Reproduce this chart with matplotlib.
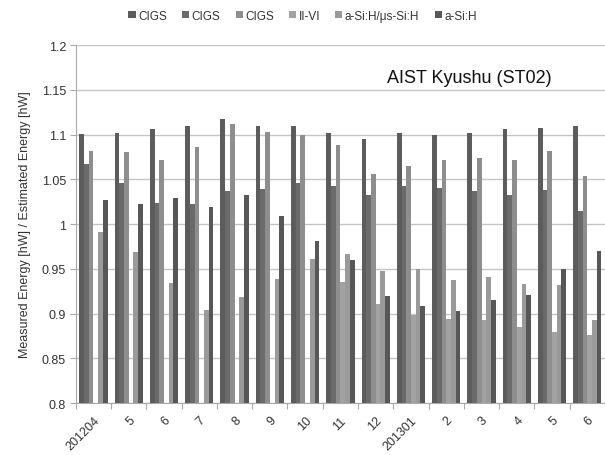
import numpy as np
import matplotlib.pyplot as plt

plt.rcParams['font.family'] = ['Liberation Sans', 'DejaVu Sans']

# monthly ratio of measured to estimated energy, AIST Kyushu site
months = ['201204', '5', '6', '7', '8', '9', '10', '11', '12',
          '201301', '2', '3', '4', '5', '6']
series_names = ['CIGS', 'CIGS', 'CIGS', 'II-VI', 'a-Si:H/μs-Si:H', 'a-Si:H']

cigs_1 = [1.101, 1.102, 1.106, 1.109, 1.117, 1.109, 1.109, 1.102, 1.095,
          1.102, 1.100, 1.102, 1.106, 1.107, 1.109]
cigs_2 = [1.067, 1.046, 1.023, 1.022, 1.037, 1.039, 1.046, 1.043, 1.032,
          1.043, 1.040, 1.037, 1.033, 1.038, 1.015]
cigs_3 = [1.082, 1.080, 1.072, 1.086, 1.112, 1.103, 1.099, 1.088, 1.056,
          1.065, 1.072, 1.074, 1.072, 1.082, 1.054]
ii_vi = [np.nan, np.nan, np.nan, np.nan, np.nan, np.nan, np.nan, 0.935, 0.911,
         0.898, 0.894, 0.893, 0.885, 0.879, 0.876]
asi_usi = [0.991, 0.969, 0.934, 0.904, 0.918, 0.939, 0.961, 0.967, 0.948,
           0.950, 0.938, 0.941, 0.933, 0.932, 0.893]
asi = [1.027, 1.022, 1.029, 1.019, 1.033, 1.009, 0.981, 0.960, 0.920,
       0.908, 0.903, 0.915, 0.921, 0.950, 0.970]

all_series = [cigs_1, cigs_2, cigs_3, ii_vi, asi_usi, asi]
colors = ['#5c5c5c', '#6a6a6a', '#8e8e8e', '#a2a2a2', '#9a9a9a', '#575757']

fig = plt.figure(figsize=(6.05, 4.56), dpi=100)
ax = fig.add_axes([0.1253, 0.114, 0.8747, 0.785])

n = len(all_series)
group_w = 0.8
bar_w = group_w / n
x = np.arange(len(months))
for i, (vals, c) in enumerate(zip(all_series, colors)):
    offs = -group_w / 2 + bar_w * (i + 0.5)
    ax.bar(x + offs, np.array(vals) - 0.8, bar_w, bottom=0.8, color=c,
           label=series_names[i], zorder=3, linewidth=0)

ax.set_xlim(-0.5, len(months) - 0.5)
ax.set_ylim(0.8, 1.2)
ax.set_yticks(np.arange(0.8, 1.201, 0.05))
ax.set_yticklabels(['0.8', '0.85', '0.9', '0.95', '1', '1.05', '1.1', '1.15', '1.2'],
                   fontsize=9, color='#333333')
ax.yaxis.grid(True, color='#c4c4c4', linewidth=1, zorder=0)
ax.tick_params(axis='y', length=4, color='#aaaaaa', pad=3)

# category boundaries get the tick marks, labels sit in the middle
ax.set_xticks(np.arange(-0.5, len(months), 1.0))
ax.set_xticklabels([])
ax.tick_params(axis='x', which='major', length=4, color='#aaaaaa')
ax.set_xticks(x, minor=True)
ax.set_xticklabels(months, minor=True, rotation=45, ha='right',
                   rotation_mode='anchor', fontsize=9, color='#333333')
ax.tick_params(axis='x', which='minor', length=0, pad=8)

for side in ['top', 'right']:
    ax.spines[side].set_visible(False)
for side in ['left', 'bottom']:
    ax.spines[side].set_color('#aaaaaa')

ax.set_ylabel('Measured Energy [hW] / Estimated Energy [hW]', fontsize=9,
              color='#333333', labelpad=8)

fig.text(0.911, 0.828, 'AIST Kyushu (ST02)', fontsize=13, ha='right',
         va='center', color='#111111')

fig.legend(loc='center', bbox_to_anchor=(0.5, 0.963), ncol=6, frameon=False,
           fontsize=8.5, handlelength=0.6, handleheight=0.6, handletextpad=0.2,
           columnspacing=1.3, labelcolor='#333333')

plt.savefig('out.png', dpi=100)
